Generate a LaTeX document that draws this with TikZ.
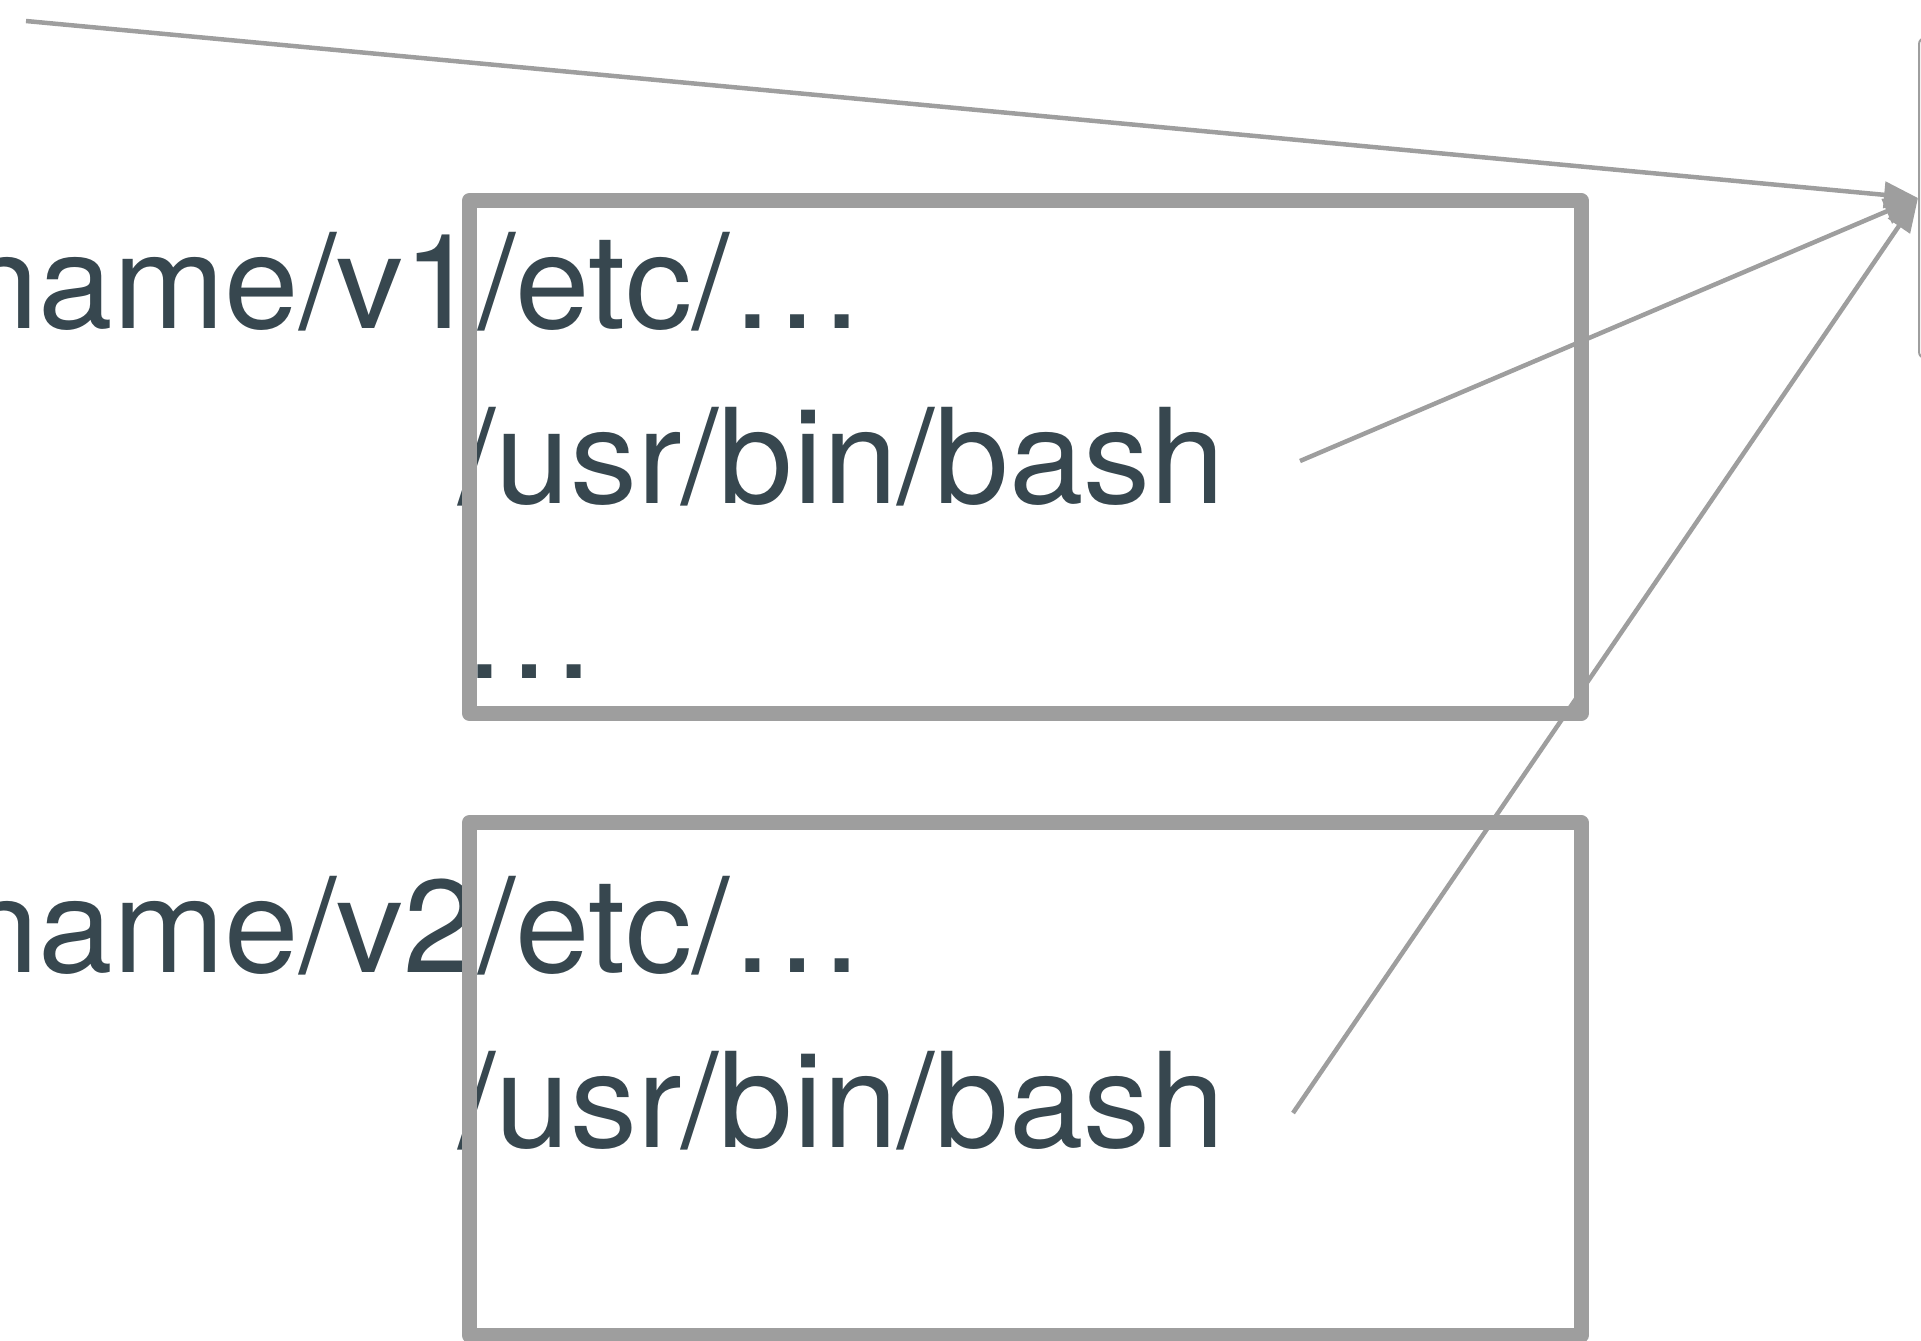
\documentclass[tikz,border=0pt]{standalone}
\usepackage{fontspec}
\setmainfont[FakeStretch=1.015]{TeX Gyre Heros}
\usetikzlibrary{arrows.meta}
\definecolor{linegray}{HTML}{9E9E9E}
\definecolor{textslate}{HTML}{37474F}
\begin{document}
\begin{tikzpicture}[
        x=0.5pt, y=-0.5pt,
        pathtext/.style={anchor=base west, inner sep=0pt, text=textslate, font=\fontsize{66}{79}\selectfont},
        layerbox/.style={draw=linegray, line width=7.5pt, line join=round, minimum width=555.75pt, minimum height=256.5pt},
        mountbox/.style={draw=linegray, line width=1pt, rounded corners=3pt, minimum width=200pt, minimum height=160pt},
        link/.style={draw=linegray, line width=2.25pt, -{Triangle[length=17pt, width=13pt]}}
      ]
      \useasboundingbox (0,0) rectangle (1921,1340);
      \node[pathtext] (v1etc) at (477.8,328) {\llap{name/v1}/etc/…};
      \node[pathtext] (v1bin) at (458,503) {/usr/bin/bash};
      \node[pathtext] (v1dots) at (462,678) {…};
      \node[pathtext] (v2etc) at (477.8,972) {\llap{name/v2}/etc/…};
      \node[pathtext] (v2bin) at (458,1147) {/usr/bin/bash};
      \node[layerbox] (v1box) at (1025.25,457) {};
      \node[layerbox] (v2box) at (1025.25,1079) {};
      \node[mountbox] (mount) at (2119,198) {};
      \coordinate (src) at (26,21);
      \coordinate (v1out) at (1300,461);
      \coordinate (v2out) at (1293,1113);
      \draw[link] (src) -- (mount.west);
      \draw[link] (v1out) -- (mount.west);
      \draw[link] (v2out) -- (mount.west);
    \end{tikzpicture}
\end{document}
